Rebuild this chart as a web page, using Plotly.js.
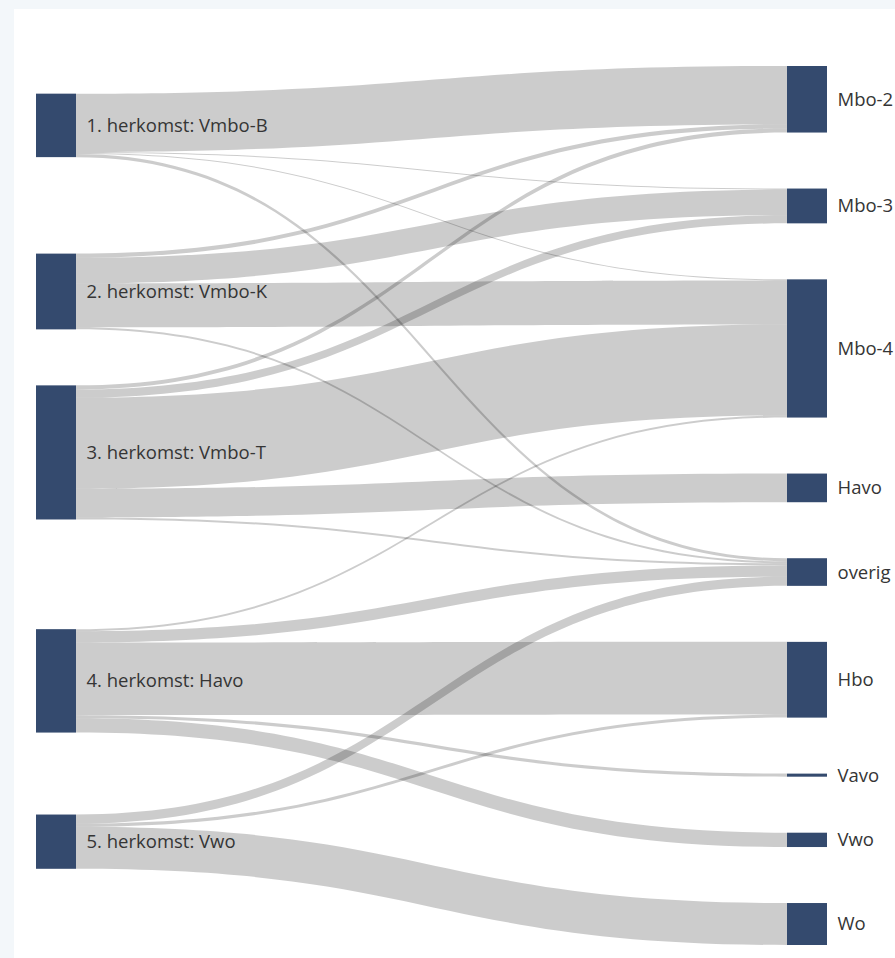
<!DOCTYPE html>
<html>
<head>
<meta charset="utf-8">
<script src="https://cdn.plot.ly/plotly-3.0.1.min.js"></script>
<style>
  html, body { margin: 0; padding: 0; background: #f3f7fa; overflow: hidden; width: 895px; height: 958px; position: relative; }
  #chart { position: absolute; left: 14px; top: 9px; width: 1600px; height: 949px; background: #ffffff; overflow: hidden; }
</style>
</head>
<body>
<div id="chart"></div>
<script>
// Node labels (sources first, then destinations)
const nodeLabels = [
  "1. herkomst: Vmbo-B",
  "2. herkomst: Vmbo-K",
  "3. herkomst: Vmbo-T",
  "4. herkomst: Havo",
  "5. herkomst: Vwo",
  "Mbo-2", "Mbo-3", "Mbo-4", "Havo", "overig", "Hbo", "Vavo", "Vwo", "Wo"
];

// Flows: source index -> target index with value
const linkSource = [0, 0, 0, 0,  1, 1, 1, 1,  2, 2, 2, 2, 2,  3, 3, 3, 3, 3,  4, 4, 4];
const linkTarget = [5, 6, 7, 9,  5, 6, 7, 9,  5, 6, 7, 8, 9,  7, 9, 10, 11, 12,  9, 10, 13];
const linkValue  = [57, 1, 1, 3,  4, 25, 43, 2,  4, 8, 89, 28, 2,  2, 11, 71, 3, 14,  9, 3, 41];

const NODE_COLOR = '#344a6e';
const LINK_COLOR = 'rgba(0,0,0,0.2)';

// Plotly puts the labels of the last column on the left of its nodes.
// To keep the destination labels on the right (as in the reference), an
// invisible spacer column is appended far outside the visible window.
const nLabels = nodeLabels.length;
const destinations = [...new Set(linkTarget)];
const labels = nodeLabels.slice();
const nodeColors = nodeLabels.map(() => NODE_COLOR);
const src = linkSource.slice(), tgt = linkTarget.slice(), val = linkValue.slice();
const linkColors = linkValue.map(() => LINK_COLOR);
destinations.forEach((d, k) => {
  const total = linkValue.reduce((s, v, i) => s + (linkTarget[i] === d ? v : 0), 0);
  labels.push('');
  nodeColors.push('rgba(0,0,0,0)');
  src.push(d); tgt.push(nLabels + k); val.push(total);
  linkColors.push('rgba(0,0,0,0)');
});

const W = 1600, H = 949;
const data = [{
  type: 'sankey',
  orientation: 'h',
  arrangement: 'snap',
  domain: { x: [(36 - 14) / W, (1578 - 14) / W], y: [1 - (945 - 9) / H, 1 - (66 - 9) / H] },
  node: {
    label: labels,
    pad: 56,
    thickness: 40,
    color: nodeColors,
    // transparent outline: only widens the gap between node and its label
    line: { color: 'rgba(0,0,0,0)', width: 15 }
  },
  link: {
    source: src,
    target: tgt,
    value: val,
    color: linkColors
  },
  textfont: { family: 'Open Sans, sans-serif', size: 18.5, color: '#353535', shadow: 'none' },
  hoverinfo: 'none'
}];

const layout = {
  width: W,
  height: H,
  margin: { l: 0, r: 0, t: 0, b: 0, pad: 0 },
  paper_bgcolor: '#ffffff',
  showlegend: false
};

Plotly.newPlot('chart', data, layout, { displayModeBar: false });
</script>
</body>
</html>
